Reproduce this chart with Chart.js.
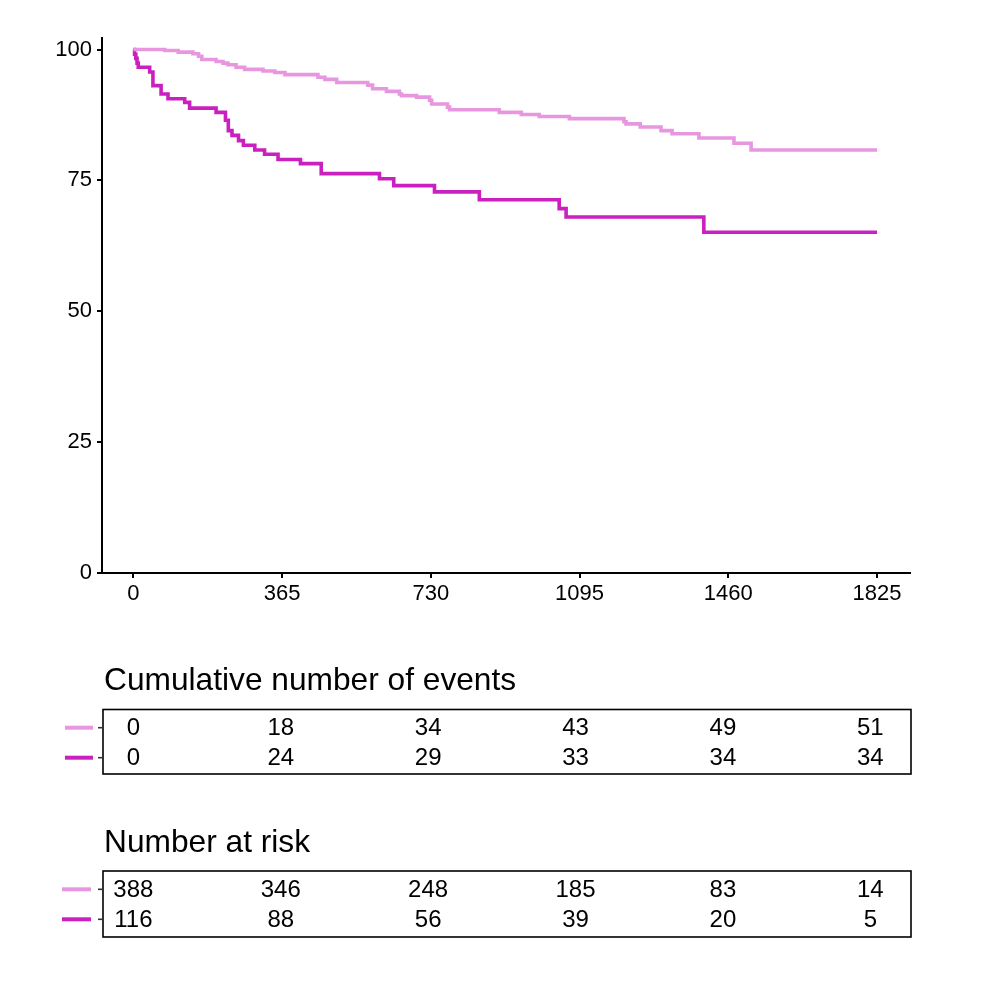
<!DOCTYPE html>
<html>
<head>
<meta charset="utf-8">
<script src="https://cdn.jsdelivr.net/npm/chart.js@4.4.1/dist/chart.umd.min.js"></script>
<style>
    body { margin: 0; background: #ffffff; }
    #bungkus { width: 1000px; height: 1000px; }
</style>
</head>
<body>
<div id="bungkus"><canvas id="grafikKM" width="1000" height="1000"></canvas></div>
<script>
// --- DATA KURVA (hari, persen bertahan) ---
var hariTerang = [0, 77, 110, 146, 160, 168, 203, 220, 232, 252, 273, 318, 347, 372, 453, 470, 499, 575, 587, 621, 653, 658, 695, 727, 732, 771, 776, 898, 952, 996, 1070, 1204, 1209, 1244, 1295, 1322, 1388, 1474, 1516, 1825];
var survTerang = [100, 99.8, 99.5, 99.2, 98.7, 98.1, 97.7, 97.4, 97.1, 96.6, 96.2, 95.9, 95.6, 95.2, 94.7, 94.3, 93.7, 93.2, 92.5, 92.0, 91.5, 91.2, 90.9, 90.3, 89.6, 89.0, 88.5, 88.0, 87.6, 87.2, 86.8, 86.2, 85.8, 85.2, 84.5, 83.9, 83.1, 82.1, 80.8, 80.8];

var hariGelap = [0, 3, 6, 9, 12, 40, 48, 68, 85, 126, 138, 203, 226, 233, 242, 258, 270, 298, 322, 355, 410, 461, 604, 639, 739, 849, 1045, 1062, 1400, 1825];
var survGelap = [100, 99.1, 98.3, 97.4, 96.6, 95.7, 93.1, 91.5, 90.6, 89.9, 88.8, 88.0, 86.5, 84.5, 83.6, 82.6, 81.7, 80.8, 80.0, 79.0, 78.2, 76.3, 75.3, 74.0, 72.8, 71.3, 69.6, 68.0, 65.1, 65.1];

// --- DATA TABEL ---
var tickX = [0, 365, 730, 1095, 1460, 1825];
var tickY = [0, 25, 50, 75, 100];
var kejadianTerang = [0, 18, 34, 43, 49, 51];
var kejadianGelap = [0, 24, 29, 33, 34, 34];
var risikoTerang = [388, 346, 248, 185, 83, 14];
var risikoGelap = [116, 88, 56, 39, 20, 5];

var warnaTerang = '#e797e0';
var warnaGelap = '#cb20c0';
var hurufDasar = '"Liberation Sans", Arial, sans-serif';

function jadikanTitik(hari, nilai) {
    return hari.map(function(h, i) { return { x: h, y: nilai[i] }; });
}

// --- GAMBAR TABEL DI BAWAH GRAFIK ---
function gambarTabel(ctx, chart, judul, yJudul, kotakAtas, kotakBawah, barisY, isi, garisX0, garisX1) {
    var area = chart.chartArea;
    var sx = chart.scales.x;
    var x0 = sx.getPixelForValue(0);
    var kiri = area.left + 1;
    var kanan = area.right + 1;

    ctx.save();
    ctx.fillStyle = '#000';
    ctx.font = '31.7px ' + hurufDasar;
    ctx.textAlign = 'left';
    ctx.textBaseline = 'alphabetic';
    ctx.fillText(judul, kiri + 1, yJudul);

    // kotak
    ctx.strokeStyle = '#000';
    ctx.lineWidth = 1.6;
    ctx.strokeRect(kiri, kotakAtas, kanan - kiri, kotakBawah - kotakAtas);

    var warna = [warnaTerang, warnaGelap];
    ctx.font = '24px ' + hurufDasar;
    ctx.textAlign = 'center';
    ctx.textBaseline = 'middle';
    for (var r = 0; r < isi.length; r++) {
        // garis legenda
        ctx.strokeStyle = warna[r];
        ctx.lineWidth = 4;
        ctx.beginPath();
        ctx.moveTo(garisX0, barisY[r]);
        ctx.lineTo(garisX1, barisY[r]);
        ctx.stroke();
        // tick kecil
        ctx.strokeStyle = '#333';
        ctx.lineWidth = 1.6;
        ctx.beginPath();
        ctx.moveTo(kiri - 5, barisY[r]);
        ctx.lineTo(kiri, barisY[r]);
        ctx.stroke();
        // angka
        for (var c = 0; c < tickX.length; c++) {
            var px = x0 + (sx.getPixelForValue(tickX[c]) - x0) * 0.991;
            ctx.fillText(String(isi[r][c]), px, barisY[r] + 1);
        }
    }
    ctx.restore();
}

var pluginTabel = {
    id: 'tabelRisiko',
    afterDraw: function(chart) {
        var ctx = chart.ctx;
        gambarTabel(ctx, chart, 'Cumulative number of events', 690, 709.5, 774, [727.7, 757.7],
            [kejadianTerang, kejadianGelap], 65, 93);
        gambarTabel(ctx, chart, 'Number at risk', 852, 871, 937, [889.3, 919.3],
            [risikoTerang, risikoGelap], 62, 91);
    }
};

function labelPolos(v) { return String(v); }

// --- INISIALISASI GRAFIK ---
var ctx = document.getElementById('grafikKM').getContext('2d');
var grafikKM = new Chart(ctx, {
    type: 'line',
    data: {
        datasets: [{
            data: jadikanTitik(hariTerang, survTerang),
            borderColor: warnaTerang,
            borderWidth: 3.6,
            stepped: 'before',
            pointRadius: 0,
            fill: false
        }, {
            data: jadikanTitik(hariGelap, survGelap),
            borderColor: warnaGelap,
            borderWidth: 3.6,
            stepped: 'before',
            pointRadius: 0,
            fill: false
        }]
    },
    options: {
        responsive: false,
        animation: false,
        devicePixelRatio: 1,
        layout: { padding: { left: 0, right: 90, top: 38, bottom: 377 } },
        plugins: {
            legend: { display: false },
            tooltip: { enabled: false }
        },
        scales: {
            x: {
                type: 'linear',
                min: -77,
                max: 1906,
                afterBuildTicks: function(s) { s.ticks = tickX.map(function(v) { return { value: v }; }); },
                afterFit: function(s) { s.height = 50; },
                grid: { display: true, drawOnChartArea: false, drawTicks: true, tickLength: 5, color: '#000', lineWidth: 2 },
                border: { display: true, color: '#000', width: 2 },
                ticks: { color: '#000', font: { family: hurufDasar, size: 22 }, padding: 3, maxRotation: 0, callback: labelPolos }
            },
            y: {
                type: 'linear',
                min: 0,
                max: 102.2,
                afterBuildTicks: function(s) { s.ticks = tickY.map(function(v) { return { value: v }; }); },
                afterFit: function(s) { s.width = 102; },
                grid: { display: true, drawOnChartArea: false, drawTicks: true, tickLength: 5, color: '#000', lineWidth: 2 },
                border: { display: true, color: '#000', width: 2 },
                ticks: { color: '#000', font: { family: hurufDasar, size: 22 }, padding: 5, callback: labelPolos }
            }
        }
    },
    plugins: [pluginTabel]
});
</script>
</body>
</html>
